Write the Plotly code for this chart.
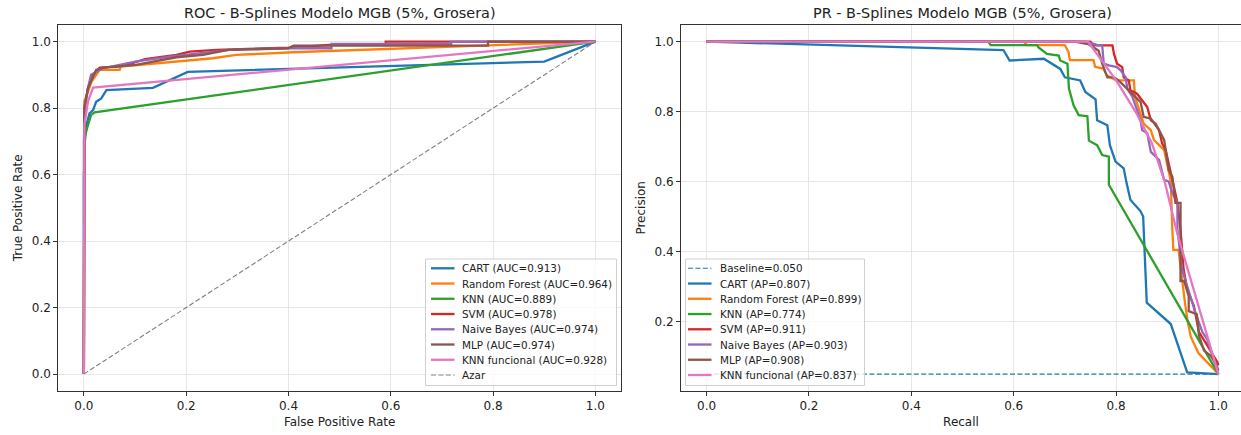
import plotly.graph_objects as go

W, H = 1241, 435

# ---------------- data ----------------
roc_names = ["CART", "Random Forest", "KNN", "SVM", "Naive Bayes", "MLP", "KNN funcional"]
roc_auc = [0.913, 0.964, 0.889, 0.978, 0.974, 0.974, 0.928]
pr_ap = [0.807, 0.899, 0.774, 0.911, 0.903, 0.908, 0.837]
baseline = 0.050
colors = ["#1f77b4", "#ff7f0e", "#2ca02c", "#d62728", "#9467bd", "#8c564b", "#e377c2"]

fpr_cart = [0, 0, 0.002, 0.005, 0.011, 0.018, 0.024, 0.034, 0.044, 0.135, 0.203, 0.42, 0.9, 1.0]
tpr_cart = [0, 0.59, 0.70, 0.749, 0.784, 0.794, 0.819, 0.829, 0.854, 0.861, 0.909, 0.919, 0.94, 1.0]
fpr_rf = [0, 0, 0.001, 0.008, 0.015, 0.031, 0.07, 0.072, 0.109, 0.252, 0.298, 0.409, 1.0]
tpr_rf = [0, 0.7, 0.82, 0.85, 0.88, 0.915, 0.915, 0.925, 0.93, 0.95, 0.96, 0.968, 1.0]
fpr_knn = [0, 0, 0.001, 0.008, 0.014, 0.021, 1.0]
tpr_knn = [0, 0.65, 0.709, 0.749, 0.779, 0.787, 1.0]
fpr_svm = [0, 0, 0.001, 0.008, 0.018, 0.031, 0.066, 0.089, 0.119, 0.148, 0.181, 0.207, 0.259, 0.402, 0.48, 0.59, 0.59, 1.0]
tpr_svm = [0, 0.72, 0.80, 0.86, 0.90, 0.922, 0.925, 0.932, 0.947, 0.953, 0.96, 0.97, 0.975, 0.982, 0.99, 0.99, 1.0, 1.0]
fpr_nb = [0, 0, 0.002, 0.008, 0.014, 0.037, 0.096, 0.1, 0.168, 0.259, 0.285, 0.402, 0.484, 0.484, 0.718, 0.718, 1.0]
tpr_nb = [0, 0.7, 0.8, 0.86, 0.90, 0.92, 0.938, 0.94, 0.955, 0.97, 0.975, 0.98, 0.98, 0.993, 0.993, 1.0, 1.0]
fpr_mlp = [0, 0, 0.001, 0.008, 0.024, 0.037, 0.102, 0.181, 0.233, 0.282, 0.399, 0.41, 0.79, 0.79, 1.0]
tpr_mlp = [0, 0.72, 0.80, 0.86, 0.915, 0.922, 0.93, 0.953, 0.96, 0.975, 0.98, 0.988, 0.988, 1.0, 1.0]
fpr_knnf = [0, 0, 0.001, 0.008, 0.018, 1.0]
tpr_knnf = [0, 0.7, 0.749, 0.82, 0.862, 1.0]

rec_cart = [0, 0.1, 0.3, 0.476, 0.58, 0.592, 0.659, 0.691, 0.70, 0.73, 0.74, 0.76, 0.763, 0.783, 0.788, 0.799,
            0.815, 0.82, 0.828, 0.848, 0.853, 0.86, 0.907, 0.939, 1.0]
prec_cart = [1.0, 0.996, 0.988, 0.979, 0.976, 0.946, 0.951, 0.922, 0.898, 0.889, 0.856, 0.835, 0.775, 0.761, 0.704,
             0.657, 0.638, 0.6, 0.548, 0.515, 0.5, 0.254, 0.193, 0.055, 0.05]
rec_rf = [0, 0.62, 0.626, 0.70, 0.707, 0.710, 0.756, 0.759, 0.775, 0.782, 0.80, 0.835, 0.837, 0.854, 0.868,
          0.874, 0.894, 0.907, 0.91, 0.912, 0.922, 0.93, 0.935, 0.94, 0.946, 0.961, 1.0]
prec_rf = [1.0, 1.0, 0.99, 0.99, 0.971, 0.947, 0.947, 0.928, 0.923, 0.904, 0.889, 0.889, 0.842, 0.766, 0.747,
           0.719, 0.69, 0.6, 0.463, 0.405, 0.405, 0.3, 0.25, 0.2, 0.157, 0.11, 0.05]
rec_knn = [0, 0.55, 0.555, 0.646, 0.648, 0.665, 0.688, 0.691, 0.705, 0.708, 0.717, 0.727, 0.744, 0.747, 0.763,
           0.773, 0.786, 0.786, 1.0]
prec_knn = [1.0, 1.0, 0.99, 0.99, 0.984, 0.965, 0.96, 0.946, 0.937, 0.866, 0.818, 0.79, 0.787, 0.717, 0.704,
            0.676, 0.671, 0.591, 0.05]
rec_svm = [0, 0.75, 0.757, 0.793, 0.796, 0.802, 0.812, 0.815, 0.825, 0.828, 0.841, 0.851, 0.861, 0.868, 0.877,
           0.884, 0.890, 0.897, 0.903, 0.907, 0.913, 0.920, 0.926, 0.932, 0.939, 0.952, 0.962, 0.975, 0.991,
           0.998, 1.0]
prec_svm = [1.0, 1.0, 0.989, 0.989, 0.965, 0.937, 0.927, 0.898, 0.889, 0.861, 0.851, 0.832, 0.813, 0.775, 0.766,
            0.747, 0.709, 0.690, 0.652, 0.633, 0.586, 0.539, 0.463, 0.35, 0.292, 0.245, 0.17, 0.14, 0.102,
            0.084, 0.075]
rec_nb = [0, 0.74, 0.763, 0.773, 0.776, 0.786, 0.802, 0.809, 0.819, 0.822, 0.832, 0.841, 0.848, 0.851, 0.861,
          0.868, 0.884, 0.894, 0.903, 0.910, 0.920, 0.920, 0.929, 0.933, 0.956, 0.969, 0.978, 1.0]
prec_nb = [1.0, 1.0, 0.991, 0.989, 0.937, 0.932, 0.927, 0.918, 0.898, 0.865, 0.842, 0.804, 0.775, 0.747, 0.738,
           0.685, 0.662, 0.605, 0.6, 0.567, 0.539, 0.463, 0.349, 0.33, 0.221, 0.169, 0.15, 0.05]
rec_mlp = [0, 0.72, 0.747, 0.766, 0.773, 0.779, 0.783, 0.796, 0.805, 0.815, 0.832, 0.848, 0.854, 0.868, 0.884,
           0.894, 0.903, 0.910, 0.916, 0.926, 0.926, 0.933, 0.942, 0.942, 0.958, 0.962, 0.972, 0.985, 0.995, 1.0]
prec_mlp = [1.0, 1.0, 0.992, 0.974, 0.937, 0.913, 0.898, 0.898, 0.889, 0.875, 0.851, 0.827, 0.785, 0.78, 0.747,
            0.719, 0.633, 0.614, 0.539, 0.539, 0.316, 0.316, 0.273, 0.23, 0.221, 0.16, 0.117, 0.102, 0.08, 0.06]
rec_knnf = [0, 0.745, 0.80, 0.84, 0.87, 0.895, 0.92, 1.0]
prec_knnf = [1.0, 1.0, 0.89, 0.795, 0.71, 0.6, 0.45, 0.05]

roc_fpr = [fpr_cart, fpr_rf, fpr_knn, fpr_svm, fpr_nb, fpr_mlp, fpr_knnf]
roc_tpr = [tpr_cart, tpr_rf, tpr_knn, tpr_svm, tpr_nb, tpr_mlp, tpr_knnf]
pr_rec = [rec_cart, rec_rf, rec_knn, rec_svm, rec_nb, rec_mlp, rec_knnf]
pr_prec = [prec_cart, prec_rf, prec_knn, prec_svm, prec_nb, prec_mlp, prec_knnf]

ticks = [0.0, 0.2, 0.4, 0.6, 0.8, 1.0]

# ---------------- figure ----------------
def px(x):
    return x / W

def py(y):
    return 1 - y / H

FONT = "DejaVu Sans"
LW = 2.3
DASH = "5px,2.4px"

fig = go.Figure()

for i, name in enumerate(roc_names):
    fig.add_trace(go.Scatter(x=roc_fpr[i], y=roc_tpr[i], mode="lines", xaxis="x", yaxis="y",
                             line=dict(color=colors[i], width=LW), showlegend=False,
                             name=f"{name} (AUC={roc_auc[i]:.3f})"))
fig.add_trace(go.Scatter(x=[0, 1], y=[0, 1], mode="lines", xaxis="x", yaxis="y",
                         line=dict(color="#808080", width=1.1, dash=DASH), showlegend=False, name="Azar"))

fig.add_trace(go.Scatter(x=[0, 1], y=[baseline, baseline], mode="lines", xaxis="x2", yaxis="y2",
                         line=dict(color=colors[0], width=1.1, dash=DASH), showlegend=False,
                         name=f"Baseline={baseline:.3f}"))
for i, name in enumerate(roc_names):
    fig.add_trace(go.Scatter(x=pr_rec[i], y=pr_prec[i], mode="lines", xaxis="x2", yaxis="y2",
                             line=dict(color=colors[i], width=LW), showlegend=False,
                             name=f"{name} (AP={pr_ap[i]:.3f})"))

axis_common = dict(
    showgrid=True, gridcolor="#e6e6e6", gridwidth=1, zeroline=False,
    showline=True, linecolor="#333333", linewidth=1,
    ticks="outside", ticklen=4, tickcolor="#333333", tickwidth=1,
    tickvals=ticks, tickformat=".1f",
    tickfont=dict(family=FONT, size=12, color="#222222"),
    title_font=dict(family=FONT, size=12, color="#222222"),
)

ydom = [py(390.7), py(25)]
fig.update_layout(
    width=W, height=H, margin=dict(l=0, r=0, t=0, b=0),
    paper_bgcolor="white", plot_bgcolor="white",
    font=dict(family=FONT, color="#222222"),
    xaxis=dict(domain=[px(58.3), px(621)], range=[-0.05, 1.05], mirror=True, anchor="y",
               title=dict(text="False Positive Rate", standoff=5), **axis_common),
    yaxis=dict(domain=ydom, range=[-0.05, 1.05], mirror=True, anchor="x",
               title=dict(text="True Positive Rate", standoff=6), **axis_common),
    xaxis2=dict(domain=[px(681), 1.0], range=[-0.05, (1241 - 706.6) / 511.8], mirror=True, anchor="y2",
                title=dict(text="Recall", standoff=5), **axis_common),
    yaxis2=dict(domain=ydom, range=[0.0025, 1.0475], mirror=False, anchor="x2",
                title=dict(text="Precision", standoff=6), **axis_common),
)

annotations = [
    dict(text="ROC - B-Splines Modelo MGB (5%, Grosera)", x=px(339.7), y=py(13), xref="paper", yref="paper",
         showarrow=False, xanchor="center", yanchor="middle", font=dict(family=FONT, size=14.4, color="#222222")),
    dict(text="PR - B-Splines Modelo MGB (5%, Grosera)", x=px(962.5), y=py(13), xref="paper", yref="paper",
         showarrow=False, xanchor="center", yanchor="middle", font=dict(family=FONT, size=14.4, color="#222222")),
]
shapes = []

def add_legend(x0, x1, y0, y1, hx0, hx1, tx, entries):
    shapes.append(dict(type="rect", xref="paper", yref="paper", x0=px(x0), x1=px(x1), y0=py(y1), y1=py(y0),
                       line=dict(color="#d0d0d0", width=1), fillcolor="rgba(255,255,255,0.8)", layer="above"))
    row0, step = 268.3, (375 - 268.3) / 7
    for k, (label, col, dash, w) in enumerate(entries):
        yy = row0 + k * step
        shapes.append(dict(type="line", xref="paper", yref="paper", x0=px(hx0), x1=px(hx1), y0=py(yy), y1=py(yy),
                           line=dict(color=col, width=w, dash=dash), layer="above"))
        annotations.append(dict(text=label, x=px(tx), y=py(yy), xref="paper", yref="paper", showarrow=False,
                                xanchor="left", yanchor="middle", borderpad=0,
                                font=dict(family=FONT, size=10.4, color="#222222")))

roc_entries = [(f"{n} (AUC={a:.3f})", c, "solid", LW) for n, a, c in zip(roc_names, roc_auc, colors)]
roc_entries.append(("Azar", "#808080", DASH, 1.1))
pr_entries = [(f"Baseline={baseline:.3f}", colors[0], DASH, 1.1)]
pr_entries += [(f"{n} (AP={a:.3f})", c, "solid", LW) for n, a, c in zip(roc_names, pr_ap, colors)]

add_legend(425.5, 616.5, 259, 385.5, 431, 454.5, 460.5, roc_entries)
add_legend(685.5, 864.5, 259, 385.5, 688, 711.5, 718.5, pr_entries)

fig.update_layout(annotations=annotations, shapes=shapes)
fig.write_html("out.html")
